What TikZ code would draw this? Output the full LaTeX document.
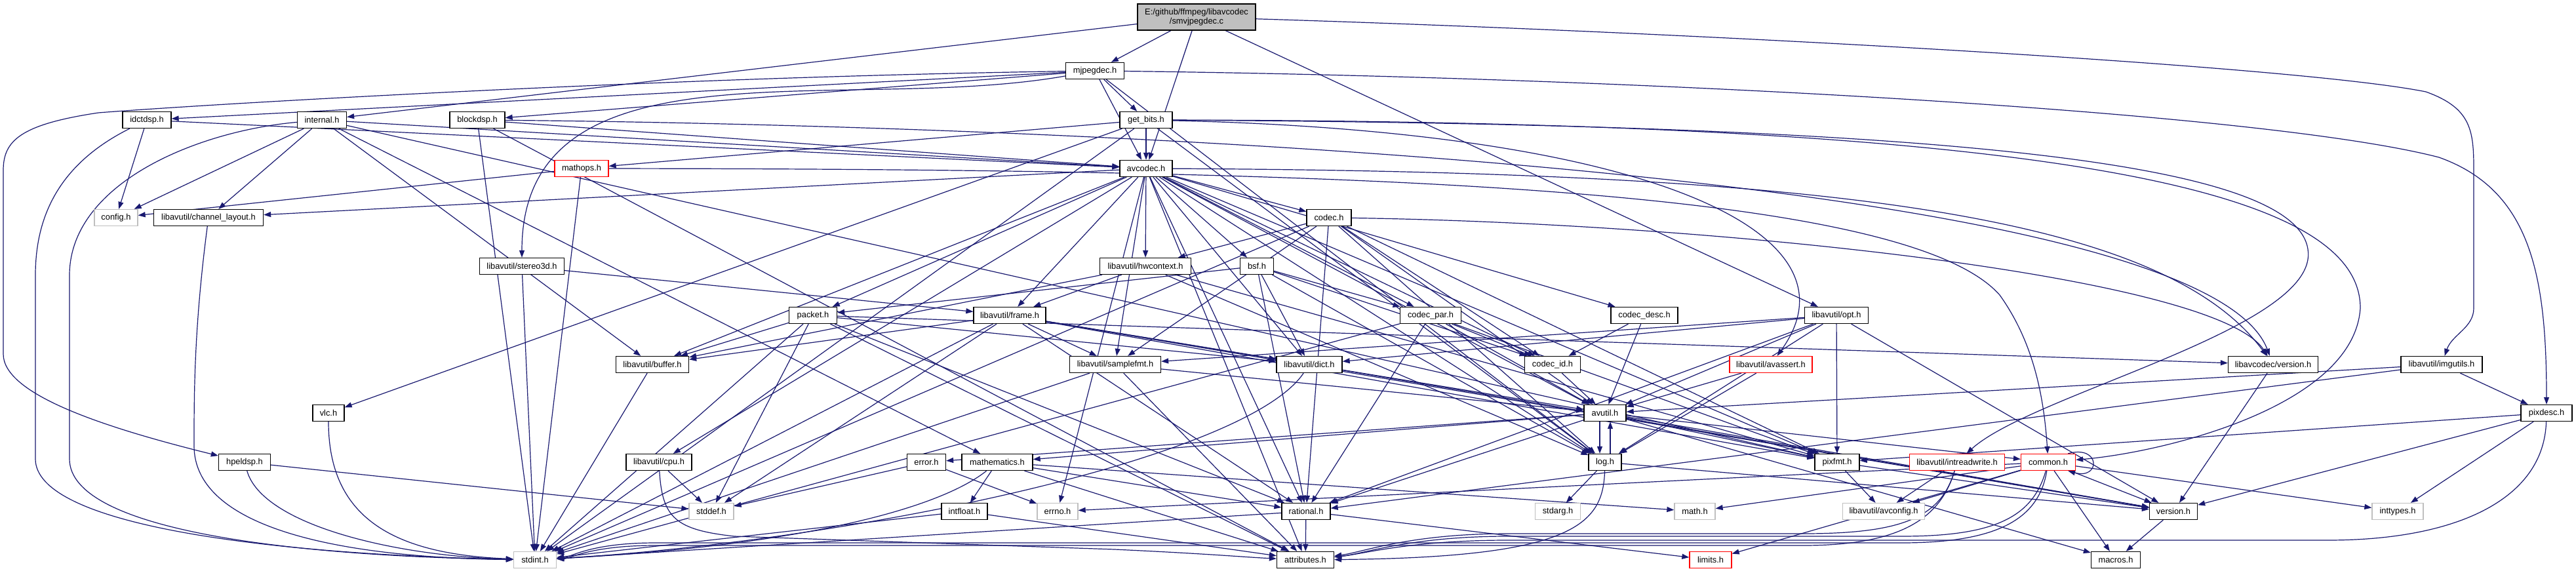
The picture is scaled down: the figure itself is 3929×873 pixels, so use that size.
\documentclass[tikz,border=0pt]{standalone}
\usepackage{fontspec}
\setmainfont{Liberation Sans}
\usetikzlibrary{arrows.meta,backgrounds}
\definecolor{edgec}{HTML}{191970}
\definecolor{topfill}{HTML}{BFBFBF}
\definecolor{sysgray}{HTML}{BFBFBF}
\definecolor{redb}{HTML}{FF0000}
\newcommand\nodefont{\fontsize{12.85}{14.5}\selectfont}
\tikzset{
  nb/.style={draw=black, line width=1.3pt, fill=white, minimum height=25pt,
    inner xsep=3pt, inner ysep=0pt, font=\nodefont, text=black},
  ng/.style={nb, draw=sysgray},
  nr/.style={nb, draw=redb},
  ntop/.style={nb, fill=topfill, minimum height=40pt, align=center},
  dep/.style={draw=edgec, line width=1.2pt, -{Triangle[length=11pt,width=8pt]}},
}
\begin{document}
\begin{tikzpicture}[x=1pt,y=-1pt]
\useasboundingbox (0,0) rectangle (3929,873);
% ---------------- nodes
\node[ntop, minimum width=180pt] (top) at (1825,26) {E:/github/ffmpeg/libavcodec\\/smvjpegdec.c};
\node[nb, minimum width=89pt] (mjp) at (1670,108) {mjpegdec.h};
\node[nb, minimum width=80pt] (gb) at (1748,183) {get\_bits.h};
\node[nb, minimum width=80pt] (avc) at (1748,257) {avcodec.h};
\node[nb, minimum width=74pt] (idct) at (224,183) {idctdsp.h};
\node[nb, minimum width=75pt] (intl) at (491,183) {internal.h};
\node[nb, minimum width=84pt] (blk) at (728,183) {blockdsp.h};
\node[nr, minimum width=82pt] (mops) at (887,257) {mathops.h};
\node[ng, minimum width=66pt] (cfg) at (177,332) {config.h};
\node[nb, minimum width=167pt] (chl) at (318,332) {libavutil/channel\_layout.h};
\node[nb, minimum width=129pt] (s3d) at (796,406) {libavutil/stereo3d.h};
\node[nb, minimum width=111pt] (buf) at (995,556) {libavutil/buffer.h};
\node[nb, minimum width=139pt] (hw) at (1747,406) {libavutil/hwcontext.h};
\node[nb, minimum width=51pt] (bsf) at (1917,406) {bsf.h};
\node[nb, minimum width=73pt] (pkt) at (1240,481) {packet.h};
\node[nb, minimum width=110pt] (frm) at (1540,481) {libavutil/frame.h};
\node[nb, minimum width=139pt] (sfmt) at (1701,556) {libavutil/samplefmt.h};
\node[nb, minimum width=100pt] (dict) at (1997,556) {libavutil/dict.h};
\node[nb, minimum width=68pt] (cdc) at (2027,332) {codec.h};
\node[nb, minimum width=93pt] (cpar) at (2182,481) {codec\_par.h};
\node[nb, minimum width=102pt] (cdesc) at (2508,481) {codec\_desc.h};
\node[nb, minimum width=97pt] (opt) at (2801,481) {libavutil/opt.h};
\node[nb, minimum width=85pt] (cid) at (2368,556) {codec\_id.h};
\node[nr, minimum width=126pt] (asrt) at (2701,556) {libavutil/avassert.h};
\node[nb, minimum width=137pt] (lver) at (3467,556) {libavcodec/version.h};
\node[nb, minimum width=124pt] (img) at (3724,556) {libavutil/imgutils.h};
\node[nb, minimum width=48pt] (vlc) at (501,630) {vlc.h};
\node[nb, minimum width=79pt] (hpel) at (373,705) {hpeldsp.h};
\node[ng, minimum width=65pt] (sint) at (816,854) {stdint.h};
\node[nb, minimum width=100pt] (cpu) at (1005,705) {libavutil/cpu.h};
\node[ng, minimum width=68pt] (sdef) at (1085,780) {stddef.h};
\node[nb, minimum width=59pt] (err) at (1413,705) {error.h};
\node[nb, minimum width=108pt] (mth) at (1521,705) {mathematics.h};
\node[nb, minimum width=70pt] (ifl) at (1471,780) {intfloat.h};
\node[ng, minimum width=62pt] (eno) at (1613,780) {errno.h};
\node[nb, minimum width=74pt] (rat) at (1992,780) {rational.h};
\node[nb, minimum width=87pt] (attr) at (1991,854) {attributes.h};
\node[nb, minimum width=64pt] (avu) at (2448,630) {avutil.h};
\node[nb, minimum width=50pt] (log) at (2448,705) {log.h};
\node[nb, minimum width=68pt] (pix) at (2802,705) {pixfmt.h};
\node[nr, minimum width=145pt] (irw) at (2985,705) {libavutil/intreadwrite.h};
\node[ng, minimum width=69pt] (sarg) at (2376,780) {stdarg.h};
\node[ng, minimum width=62pt] (cmath) at (2585,780) {math.h};
\node[ng, minimum width=125pt] (acfg) at (2873,780) {libavutil/avconfig.h};
\node[nr, minimum width=64pt] (lim) at (2609,854) {limits.h};
\node[nr, minimum width=83pt] (com) at (3124,705) {common.h};
\node[nb, minimum width=73pt] (ver) at (3315,780) {version.h};
\node[ng, minimum width=78pt] (inty) at (3657,780) {inttypes.h};
\node[nb, minimum width=75pt] (mac) at (3227,854) {macros.h};
\node[nb, minimum width=78pt] (pdesc) at (3884,630) {pixdesc.h};
% ---------------- edges
\begin{pgfonlayer}{background}
\fill[white] (0,0) rectangle (3929,873);
% smvjpegdec.c
\draw[dep] (top) -- (mjp);
\draw[dep] (top) -- (avc);
\draw[dep] (top) -- (intl);
\draw[dep] (top) -- (opt);
\draw[dep] (top) .. controls (2600,50) and (3500,100) .. (3700,140) .. controls (3770,165) and (3773,200) .. (3773,260) -- (3773,470) .. controls (3773,500) and (3740,510) .. (img);
% mjpegdec.h
\draw[dep] (mjp) -- (log);
\draw[dep] (mjp) .. controls (2500,118) and (3450,170) .. (3720,240) .. controls (3860,290) and (3884,420) .. (pdesc);
\draw[dep] (mjp) to[out=190,in=90] (s3d);
\draw[dep] (mjp) -- (avc);
\draw[dep] (mjp) -- (blk);
\draw[dep] (mjp) -- (gb);
\draw[dep] (mjp) .. controls (1000,118) and (300,160) .. (150,172) .. controls (30,190) and (5,215) .. (5,260) -- (5,540) .. controls (5,600) and (150,650) .. (hpel);
\draw[dep] (mjp) -- (idct);
% get_bits.h
\draw[dep] (gb) -- (sint);
\draw[dep] (gb) .. controls (3200,185) and (3600,300) .. (3600,470) .. controls (3590,620) and (3300,690) .. (com);
\draw[dep] (gb) .. controls (3000,190) and (3500,250) .. (3520,380) .. controls (3540,500) and (3100,600) .. (irw);
\draw[dep] (gb) -- (log);
\draw[dep] (gb) .. controls (2500,200) and (2850,350) .. (asrt);
\draw[dep] (gb) -- (avc);
\draw[dep] (gb) -- (mops);
\draw[dep] (gb) -- (vlc);
% avcodec.h
\draw[dep] (avc) -- (eno);
\draw[dep] (avc) -- (sfmt);
\draw[dep] (avc) -- (attr);
\draw[dep] (avc) -- (avu);
\draw[dep] (avc) -- (buf);
\draw[dep] (avc) -- (cpu);
\draw[dep] (avc) -- (chl);
\draw[dep] (avc) -- (dict);
\draw[dep] (avc) -- (frm);
\draw[dep] (avc) -- (hw);
\draw[dep] (avc) -- (log);
\draw[dep] (avc) -- (pix);
\draw[dep] (avc) -- (rat);
\draw[dep] (avc) -- (bsf);
\draw[dep] (avc) -- (cdc);
\draw[dep] (avc) -- (cdesc);
\draw[dep] (avc) -- (cpar);
\draw[dep] (avc) -- (cid);
\draw[dep] (avc) -- (pkt);
\draw[dep] (avc) .. controls (2800,262) and (3300,330) .. (lver);
% idctdsp.h
\draw[dep] (idct) .. controls (90,250) and (54,330) .. (54,420) -- (54,700) .. controls (54,800) and (400,845) .. (sint);
\draw[dep] (idct) -- (cfg);
\draw[dep] (idct) -- (avc);
% internal.h
\draw[dep] (intl) .. controls (300,200) and (106,280) .. (106,420) -- (106,700) .. controls (106,810) and (450,848) .. (sint);
\draw[dep] (intl) -- (buf);
\draw[dep] (intl) -- (chl);
\draw[dep] (intl) -- (mth);
\draw[dep] (intl) -- (pix);
\draw[dep] (intl) -- (avc);
\draw[dep] (intl) -- (cfg);
% blockdsp.h
\draw[dep] (blk) -- (sint);
\draw[dep] (blk) -- (attr);
\draw[dep] (blk) -- (avc);
\draw[dep] (blk) .. controls (1500,190) and (3350,250) .. (lver);
% mathops.h
\draw[dep] (mops) -- (sint);
\draw[dep] (mops) .. controls (2000,258) and (2900,280) .. (3050,450) .. controls (3100,520) and (3117,600) .. (com);
\draw[dep] (mops) -- (cfg);
% channel_layout, stereo3d, buffer
\draw[dep] (chl) .. controls (296,500) and (296,600) .. (296,680) .. controls (296,800) and (500,850) .. (sint);
\draw[dep] (s3d) -- (sint);
\draw[dep] (s3d) -- (frm);
\draw[dep] (buf) -- (sint);
% hwcontext.h
\draw[dep] (hw) -- (buf);
\draw[dep] (hw) -- (frm);
\draw[dep] (hw) -- (log);
\draw[dep] (hw) -- (pix);
% bsf.h
\draw[dep] (bsf) -- (dict);
\draw[dep] (bsf) -- (log);
\draw[dep] (bsf) -- (rat);
\draw[dep] (bsf) -- (cid);
\draw[dep] (bsf) -- (cpar);
\draw[dep] (bsf) -- (pkt);
% packet.h
\draw[dep] (pkt) -- (sdef);
\draw[dep] (pkt) -- (sint);
\draw[dep] (pkt) -- (attr);
\draw[dep] (pkt) -- (buf);
\draw[dep] (pkt) -- (dict);
\draw[dep] (pkt) -- (rat);
\draw[dep] (pkt) -- (lver);
% frame.h
\draw[dep] (frm) -- (sdef);
\draw[dep] (frm) -- (sint);
\draw[dep] (frm) -- (avu);
\draw[dep] (frm) -- (buf);
\draw[dep] (frm) -- (dict);
\draw[dep] (frm) -- (rat);
\draw[dep] (frm) -- (sfmt);
\draw[dep] (frm) -- (pix);
\draw[dep] (frm) -- (ver);
% samplefmt.h, dict.h
\draw[dep] (sfmt) -- (sint);
\draw[dep] (sfmt) -- (avu);
\draw[dep] (sfmt) -- (attr);
\draw[dep] (dict) .. controls (1900,700) and (1300,825) .. (sint);
\draw[dep] (dict) -- (ver);
% codec.h
\draw[dep] (cdc) -- (sint);
\draw[dep] (cdc) -- (avu);
\draw[dep] (cdc) -- (hw);
\draw[dep] (cdc) -- (log);
\draw[dep] (cdc) -- (pix);
\draw[dep] (cdc) -- (rat);
\draw[dep] (cdc) -- (sfmt);
\draw[dep] (cdc) -- (cid);
\draw[dep] (cdc) .. controls (2600,340) and (3380,420) .. (lver);
% codec_par.h, codec_desc.h, codec_id.h
\draw[dep] (cpar) -- (sint);
\draw[dep] (cpar) -- (avu);
\draw[dep] (cpar) -- (rat);
\draw[dep] (cpar) -- (pix);
\draw[dep] (cpar) -- (cid);
\draw[dep] (cdesc) -- (avu);
\draw[dep] (cdesc) -- (cid);
\draw[dep] (cid) -- (avu);
% opt.h
\draw[dep] (opt) -- (rat);
\draw[dep] (opt) -- (avu);
\draw[dep] (opt) -- (dict);
\draw[dep] (opt) -- (log);
\draw[dep] (opt) -- (pix);
\draw[dep] (opt) -- (sfmt);
\draw[dep] (opt) -- (ver);
% avassert.h, libavcodec/version.h, imgutils.h, pixdesc.h
\draw[dep] (asrt) -- (avu);
\draw[dep] (asrt) -- (log);
\draw[dep] (lver) -- (ver);
\draw[dep] (img) -- (avu);
\draw[dep] (img) -- (pdesc);
\draw[dep] (img) -- (rat);
\draw[dep] (pdesc) -- (inty);
\draw[dep] (pdesc) .. controls (3880,760) and (3750,824) .. (3550,824) -- (2300,824) .. controls (2150,824) and (2080,845) .. (attr);
\draw[dep] (pdesc) -- (pix);
\draw[dep] (pdesc) -- (ver);
% vlc.h, hpeldsp.h, cpu.h, error.h
\draw[dep] (vlc) .. controls (501,790) and (600,845) .. (sint);
\draw[dep] (hpel) .. controls (400,800) and (600,848) .. (sint);
\draw[dep] (hpel) -- (sdef);
\draw[dep] (cpu) -- (sdef);
\draw[dep] (cpu) .. controls (1010,790) and (1030,808) .. (1120,818) -- (1700,838) .. controls (1850,845) and (1900,850) .. (attr);
\draw[dep] (err) -- (eno);
\draw[dep] (err) -- (sdef);
% mathematics.h, intfloat.h, rational.h
\draw[dep] (mth) .. controls (1440,770) and (1250,830) .. (sint);
\draw[dep] (mth) -- (cmath);
\draw[dep] (mth) -- (attr);
\draw[dep] (mth) -- (rat);
\draw[dep] (mth) -- (ifl);
\draw[dep] (ifl) -- (sint);
\draw[dep] (ifl) -- (attr);
\draw[dep] (rat) -- (sint);
\draw[dep] (rat) -- (lim);
\draw[dep] (rat) -- (attr);
% avutil.h
\draw[dep] (avu) -- (com);
\draw[dep] (avu) -- (err);
\draw[dep] (avu) -- (rat);
\draw[dep] (avu) -- (ver);
\draw[dep] (avu) -- (mac);
\draw[dep] (avu) -- (mth);
\draw[dep] ([xshift=-8pt]avu.south) -- ([xshift=-8pt]log.north);
\draw[dep] (avu) -- (pix);
% log.h
\draw[dep] (log) -- (sarg);
\draw[dep] ([xshift=8pt]log.north) -- ([xshift=8pt]avu.south);
\draw[dep] (log) .. controls (2445,800) and (2400,850) .. (attr);
\draw[dep] (log) -- (ver);
% pixfmt.h, intreadwrite.h
\draw[dep] (pix) -- (acfg);
\draw[dep] (pix) -- (ver);
\draw[dep] (irw) .. controls (2960,790) and (2900,832) .. (2750,832) -- (1000,832) .. controls (900,832) and (870,852) .. (sint);
\draw[dep] (irw) -- (acfg);
\draw[dep] (irw) .. controls (2960,790) and (2900,814) .. (2750,814) -- (2300,814) .. controls (2150,814) and (2080,842) .. (attr);
% common.h
\draw[dep] (com) -- (eno);
\draw[dep] (com) -- (inty);
\draw[dep] (com) -- (lim);
\draw[dep] (com) -- (cmath);
\draw[dep] (com) .. controls (3110,790) and (3050,828) .. (2900,828) -- (1000,828) .. controls (900,828) and (870,850) .. (sint);
\draw[dep] (com) .. controls (3100,790) and (3040,818) .. (2900,818) -- (2300,818) .. controls (2150,818) and (2080,845) .. (attr);
\draw[dep] (com) -- (mac);
\draw[dep] (com) -- (ver);
\draw[dep] (com) -- (acfg);
\draw[dep] ([xshift=-12pt]com.north east) .. controls +(50,-14) and +(50,14) .. ([xshift=-12pt]com.south east);
% version.h
\draw[dep] (ver) -- (mac);
\end{pgfonlayer}
\end{tikzpicture}
\end{document}
